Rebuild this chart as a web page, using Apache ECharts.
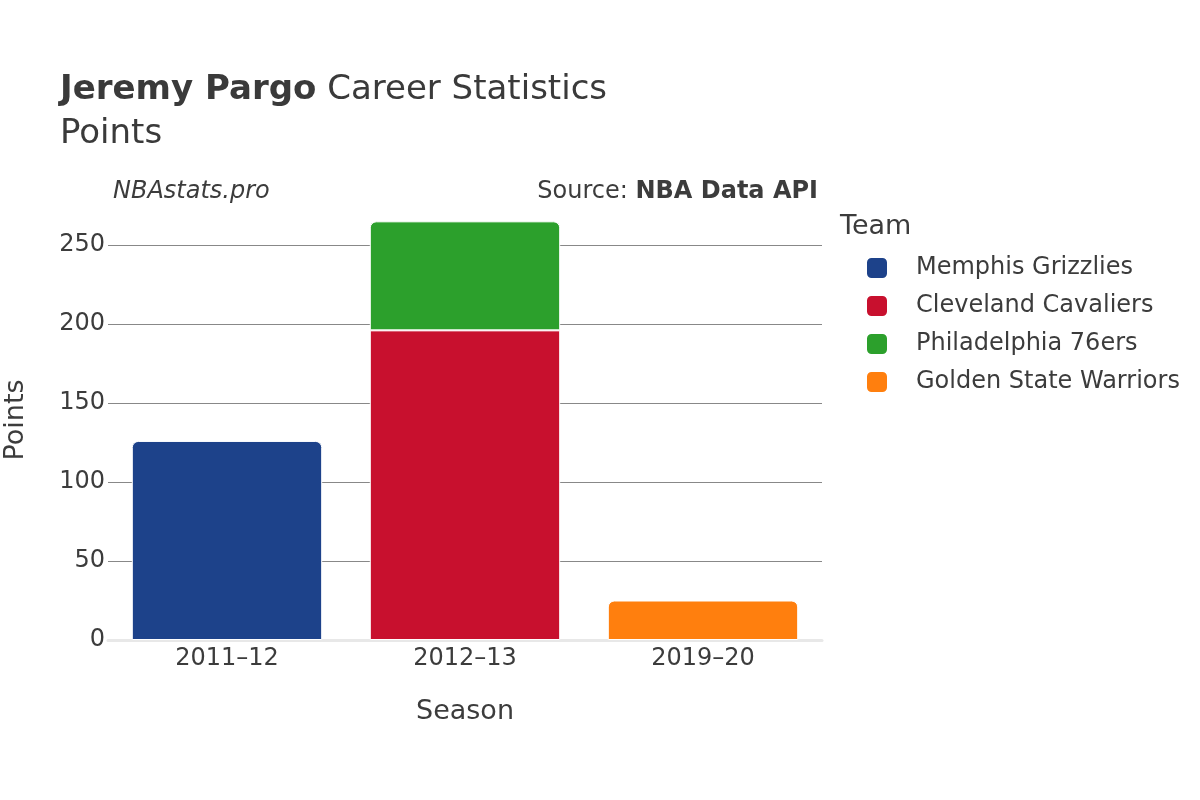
<!DOCTYPE html>
<html>
<head>
<meta charset="utf-8">
<style>
  html, body { margin: 0; padding: 0; background: #fff; }
  #chart { width: 1200px; height: 800px; }
</style>
<script src="https://cdn.jsdelivr.net/npm/echarts@6/dist/echarts.min.js"></script>
</head>
<body>
<div id="chart"></div>
<script>
const seasons = ['2011–12', '2012–13', '2019–20'];
const teams = ['Memphis Grizzlies', 'Cleveland Cavaliers', 'Philadelphia 76ers', 'Golden State Warriors'];
const teamColors = ['#1d428a', '#c8102e', '#2ca02c', '#ff7f0e'];
const memphisPts = [126, '-', '-'];
const clevelandPts = ['-', 196, '-'];
const phillyPts = ['-', 69, '-'];
const warriorsPts = ['-', '-', 25];
const yTicks = [0, 50, 100, 150, 200, 250];

const font = 'DejaVu Sans';
const chart = echarts.init(document.getElementById('chart'));

// only the top piece of each stack gets round corners
const mkSeries = (i, data, rounded) => ({
    name: teams[i],
    type: 'bar',
    stack: 'pts',
    barWidth: '80%',
    data: data,
    itemStyle: {
        color: teamColors[i],
        borderColor: '#fff',
        borderWidth: 1,
        borderRadius: rounded ? [6, 6, 0, 0] : 0
    }
});

const option = {
    backgroundColor: '#fff',
    animation: false,
    textStyle: { fontFamily: font },
    grid: { left: 108, right: 378, top: 200.4, bottom: 160 },
    legend: {
        orient: 'vertical',
        left: 865,
        top: 256,
        padding: 0,
        itemWidth: 22,
        itemHeight: 22,
        itemGap: 14,
        icon: 'roundRect',
        data: teams,
        textStyle: { fontFamily: font, fontSize: 24, color: '#3c3c3c', padding: [0, 0, 0, 23] }
    },
    xAxis: {
        type: 'category',
        data: seasons,
        axisLine: { show: true, lineStyle: { color: '#e8e8e8', width: 3 } },
        axisTick: { show: false },
        axisLabel: { fontFamily: font, fontSize: 24, color: '#3c3c3c', margin: 7 }
    },
    yAxis: {
        type: 'value',
        min: 0,
        max: 278.25,
        interval: 50,
        axisLine: { show: false },
        axisTick: { show: false },
        axisLabel: {
            fontFamily: font, fontSize: 24, color: '#3c3c3c', margin: 3,
            showMaxLabel: false,
            formatter: v => (yTicks.includes(v) ? String(v) : '')
        },
        splitLine: { show: true, showMinLine: false, showMaxLine: false, lineStyle: { color: '#888', width: 1 } }
    },
    graphic: [
        {
            type: 'text', x: 60, y: 90,
            style: {
                text: '{b|Jeremy Pargo} Career Statistics',
                rich: { b: { fontFamily: font, fontWeight: 'bold', fontSize: 34, fill: '#3a3a3a' } },
                font: '34px "DejaVu Sans"', fill: '#3a3a3a', verticalAlign: 'middle'
            }
        },
        {
            type: 'text', x: 60, y: 134,
            style: { text: 'Points', font: '34px "DejaVu Sans"', fill: '#3a3a3a', verticalAlign: 'middle' }
        },
        {
            type: 'text', x: 113, y: 192,
            style: { text: 'NBAstats.pro', font: 'italic 24px "DejaVu Sans"', fill: '#3c3c3c', verticalAlign: 'middle' }
        },
        {
            type: 'text', x: 818, y: 192,
            style: {
                text: 'Source: {b|NBA Data API}',
                rich: { b: { fontFamily: font, fontWeight: 'bold', fontSize: 24, fill: '#3c3c3c' } },
                font: '24px "DejaVu Sans"', fill: '#3c3c3c', align: 'right', verticalAlign: 'middle'
            }
        },
        {
            type: 'text', x: 840, y: 227,
            style: { text: 'Team', font: '27px "DejaVu Sans"', fill: '#3c3c3c', verticalAlign: 'middle' }
        },
        {
            type: 'text', x: 465, y: 712,
            style: { text: 'Season', font: '27px "DejaVu Sans"', fill: '#3c3c3c', align: 'center', verticalAlign: 'middle' }
        },
        {
            type: 'text', x: 16, y: 420, rotation: Math.PI / 2,
            style: { text: 'Points', font: '27px "DejaVu Sans"', fill: '#3c3c3c', align: 'center', verticalAlign: 'middle' }
        }
    ],
    series: [
        mkSeries(0, memphisPts, true),
        mkSeries(1, clevelandPts, false),
        mkSeries(2, phillyPts, true),
        mkSeries(3, warriorsPts, true)
    ]
};

chart.setOption(option);
window.addEventListener('resize', () => chart.resize());
</script>
</body>
</html>
